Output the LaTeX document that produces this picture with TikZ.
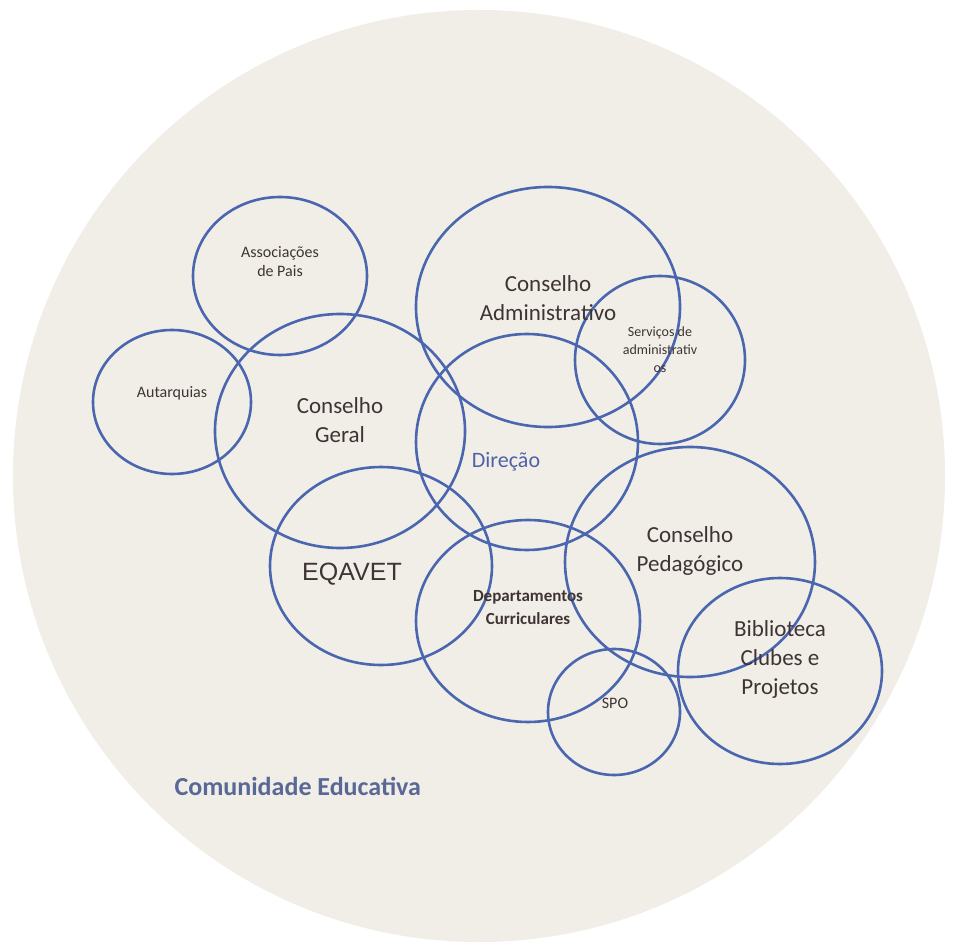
\documentclass[tikz,border=0pt]{standalone}
\usepackage{fontspec}
\setmainfont{Carlito}
\newfontfamily\arialf{Liberation Sans}
\definecolor{ringblue}{HTML}{4A66AE}
\definecolor{bgbeige}{HTML}{F1EEE8}
\definecolor{txtdark}{HTML}{3E3434}
\definecolor{dirblue}{HTML}{4E62A8}
\definecolor{comblue}{HTML}{5A6896}
\begin{document}
\begin{tikzpicture}[x=1pt,y=-1pt,
  ring/.style={draw=ringblue,line width=2.6pt},
  bigtxt/.style={text=txtdark,font=\fontsize{23}{29}\selectfont,align=center},
  smalltxt/.style={text=txtdark,font=\fontsize{16}{19}\selectfont,align=center}]
\useasboundingbox[fill=white] (0,0) rectangle (958,949);
\fill[bgbeige] (479,476) circle (466);
% rings
\draw[ring] (280,276) ellipse (87 and 79);
\draw[ring] (172,402) ellipse (79 and 72);
\draw[ring] (340,431) ellipse (125 and 117);
\draw[ring] (548,307) ellipse (132 and 120);
\draw[ring] (660,360) ellipse (85 and 84);
\draw[ring] (527,442) ellipse (111 and 108);
\draw[ring] (381,566) ellipse (111 and 99);
\draw[ring] (528,621) ellipse (112 and 101);
\draw[ring] (690,562) ellipse (125 and 115);
\draw[ring] (614,712) ellipse (66 and 63);
\draw[ring] (780,671) ellipse (102 and 93);
% labels
\node[smalltxt] (assoc) at (280,262) {Associações\\de Pais};
\node[smalltxt] (autarq) at (172,393) {Autarquias};
\node[bigtxt] (cgeral) at (340,420) {Conselho\\Geral};
\node[bigtxt] (cadmin) at (548,298) {Conselho\\Administrativo};
\node[smalltxt,font=\fontsize{14}{18}\selectfont] (serv) at (660,350) {Serviços de\\administrativ\\os};
\node[text=dirblue,font=\fontsize{22}{29}\selectfont] (direcao) at (506,462) {Direção};
\node[text=txtdark,font=\arialf\fontsize{25}{29}\selectfont] (eqavet) at (352,574) {EQAVET};
\node[text=txtdark,font=\bfseries\fontsize{17}{23}\selectfont,align=center] (dept) at (528,608) {Departamentos\\Curriculares};
\node[bigtxt] (cped) at (690,551) {Conselho\\Pedagógico};
\node[smalltxt] (spo) at (615,703) {SPO};
\node[bigtxt] (bibl) at (780,659) {Biblioteca\\Clubes e\\Projetos};
\node[text=comblue,font=\bfseries\fontsize{26}{29}\selectfont,anchor=west] (comun) at (171,786) {Comunidade Educativa};
\end{tikzpicture}
\end{document}
